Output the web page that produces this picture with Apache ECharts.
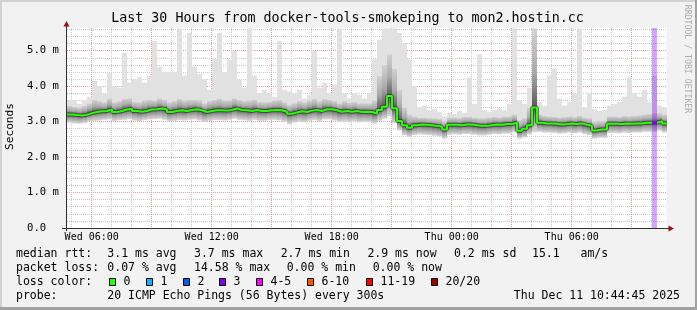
<!DOCTYPE html>
<html><head><meta charset="utf-8">
<script src="https://cdn.jsdelivr.net/npm/echarts@6/dist/echarts.min.js"></script>
<style>html,body{margin:0;padding:0;background:#f2f2f2}#c{width:697px;height:310px}</style>
</head><body><div id="c"></div>
<script>
// ---- data (hours since Wed 00:00, 15-minute steps) ----
const START_H = 4.765;
const STEP_H = 0.25;
const median = [3.20,3.19,3.17,3.19,3.24,3.27,3.29,3.30,3.34,3.27,
 3.30,3.34,3.36,3.30,3.28,3.30,3.34,3.35,3.37,3.34,
 3.27,3.30,3.32,3.30,3.33,3.35,3.32,3.27,3.30,3.32,
 3.32,3.31,3.33,3.37,3.33,3.32,3.30,3.33,3.30,3.30,
 3.32,3.33,3.32,3.28,3.22,3.26,3.29,3.27,3.31,3.33,
 3.30,3.35,3.35,3.32,3.28,3.30,3.28,3.30,3.27,3.28,
 3.27,3.23,3.33,3.42,3.72,3.38,3.02,2.90,2.83,2.90,
 2.92,2.91,2.90,2.88,2.86,2.78,2.91,2.91,2.90,2.92,
 2.92,2.90,2.88,2.88,2.90,2.92,2.91,2.93,2.93,2.97,
 2.74,2.80,2.90,3.40,2.97,2.95,2.95,2.94,2.92,2.93,
 2.95,2.93,2.95,2.91,2.88,2.75,2.78,2.78,2.94,2.94,
 2.93,2.95,2.94,2.95,2.95,2.97,2.97,2.97,3.01,2.95];
const low = [2.97,2.95,2.94,2.96,3.00,3.02,3.03,3.05,3.06,3.02,
 3.04,3.05,3.07,3.03,3.01,3.04,3.06,3.07,3.08,3.05,
 3.00,3.02,3.04,3.03,3.05,3.06,3.03,2.99,3.02,3.04,
 3.04,3.03,3.05,3.08,3.05,3.04,3.02,3.05,3.02,3.02,
 3.04,3.05,3.03,2.99,2.93,2.97,3.00,2.98,3.02,3.04,
 3.01,3.06,3.06,3.03,2.99,3.01,2.99,3.01,2.98,2.99,
 2.98,2.94,3.02,3.08,3.15,2.95,2.75,2.62,2.57,2.62,
 2.64,2.63,2.62,2.60,2.58,2.52,2.63,2.64,2.63,2.65,
 2.65,2.63,2.61,2.61,2.63,2.65,2.64,2.66,2.66,2.70,
 2.52,2.55,2.64,2.70,2.71,2.69,2.69,2.68,2.66,2.67,
 2.69,2.67,2.69,2.65,2.62,2.52,2.54,2.54,2.68,2.68,
 2.67,2.69,2.68,2.69,2.69,2.71,2.71,2.71,2.74,2.69];
const mid = [3.45,3.42,3.40,3.45,3.52,3.62,3.58,3.55,3.65,3.55,
 3.58,3.65,3.66,3.56,3.55,3.60,3.62,3.60,3.66,3.62,
 3.55,3.58,3.65,3.60,3.62,3.62,3.60,3.52,3.58,3.62,
 3.65,3.60,3.60,3.66,3.62,3.58,3.60,3.62,3.56,3.55,
 3.56,3.60,3.62,3.55,3.48,3.52,3.58,3.55,3.60,3.65,
 3.58,3.64,3.62,3.58,3.52,3.58,3.54,3.56,3.52,3.52,
 3.52,3.60,4.30,4.60,4.90,4.50,3.90,3.40,3.20,3.15,
 3.12,3.12,3.10,3.10,3.08,3.02,3.12,3.12,3.10,3.14,
 3.14,3.12,3.10,3.10,3.12,3.14,3.12,3.15,3.15,3.20,
 3.05,3.10,3.40,5.63,3.20,3.16,3.15,3.14,3.12,3.13,
 3.15,3.13,3.16,3.12,3.10,3.00,3.02,3.02,3.15,3.15,
 3.14,3.16,3.15,3.16,3.18,3.20,3.22,3.25,3.24,3.20];
const high = [3.60,3.60,3.50,3.60,3.70,4.15,4.00,3.80,4.38,4.00,
 3.95,4.94,4.10,4.20,4.25,4.10,4.30,5.27,4.55,4.40,
 4.40,4.40,5.63,4.30,5.50,4.55,4.35,4.20,3.90,4.76,
 5.50,4.40,4.75,5.00,4.20,3.95,5.63,4.30,3.80,3.90,
 3.80,3.70,5.27,3.90,3.85,3.80,3.90,3.65,3.75,5.00,
 3.95,4.10,3.80,4.05,5.63,3.80,3.65,3.80,3.75,3.65,
 3.80,4.76,5.30,5.63,5.63,5.63,5.50,5.20,4.76,4.00,
 3.40,3.45,3.33,3.35,3.28,3.15,3.25,3.20,3.30,3.25,
 4.25,3.50,4.90,3.33,3.28,3.33,3.38,3.33,3.50,5.63,
 3.60,3.50,3.95,5.63,3.55,3.45,4.30,4.50,3.65,3.45,
 3.55,3.80,5.63,3.40,3.80,3.35,3.30,3.33,3.45,3.50,
 3.55,3.70,4.25,3.80,3.70,3.90,3.55,4.30,3.45,3.40];
const lossIndex = [117];
const lossCount = [3];

// ---- axis ticks & labels ----
const yMax = 5.64;
const yMajorTicks = [0,1,2,3,4,5];
const yMajorLabels = ['0.0  ','1.0 m','2.0 m','3.0 m','4.0 m','5.0 m'];
const yMinorTicks = [0.2,0.4,0.6,0.8,1.2,1.4,1.6,1.8,2.2,2.4,2.6,2.8,3.2,3.4,3.6,3.8,4.2,4.4,4.6,4.8,5.2,5.4,5.6];
const xMinorTicks = [5,7,8,10,11,13,14,16,17,19,20,22,23,25,26,28,29,31,32,34];
const xMajorTicks = [6,9,12,15,18,21,24,27,30,33];
const xLabelTicks = [6,12,18,24,30];
const xLabelText = ['Wed 06:00','Wed 12:00','Wed 18:00','Thu 00:00','Thu 06:00'];

// ---- legend texts ----
const TITLE = 'Last 30 Hours from docker-tools-smokeping to mon2.hostin.cc';
const rttRow = ['median rtt:','3.1 ms avg','3.7 ms max','2.7 ms min','2.9 ms now','0.2 ms sd','15.1','am/s'];
const lossRow = ['packet loss:','0.07 % avg','14.58 % max','0.00 % min','0.00 % now'];
const lossLabels = ['0','1','2','3','4-5','6-10','11-19','20/20'];
const lossColors = ['#26ff00','#00b8ff','#0059ff','#7e00ff','#ff00ff','#ff5500','#ff0000','#a10000'];
const probeRow = ['probe:','20 ICMP Echo Pings (56 Bytes) every 300s'];
const dateText = 'Thu Dec 11 10:44:45 2025';

// ---- build chart ----
const FONT = '"DejaVu Sans Mono", monospace';
const N = median.length;
const xMin = START_H, xMax = START_H + STEP_H * N;
const smokeData = median.map((m,i)=>[START_H+i*STEP_H, START_H+(i+1)*STEP_H, low[i], m, mid[i], high[i]]);
const medData = median.map((m,i)=>[START_H+i*STEP_H, m]);
medData.push([xMax, median[N-1]]);
const lossData = lossIndex.map((idx,k)=>[START_H+idx*STEP_H, START_H+(idx+1)*STEP_H, median[idx], lossCount[k]]);

function lossColorFor(n){
  if (n<=0) return lossColors[0];
  if (n<=3) return lossColors[n];
  if (n<=5) return lossColors[4];
  if (n<=10) return lossColors[5];
  if (n<=19) return lossColors[6];
  return lossColors[7];
}
function grad(stops){ return new echarts.graphic.LinearGradient(0,0,0,1,stops); }

function renderSmoke(params, api){
  const t0=api.value(0), t1=api.value(1);
  const lo=api.value(2), md=api.value(3), mi=api.value(4), hi=api.value(5);
  const x0=api.coord([t0,0])[0], x1=api.coord([t1,0])[0];
  const Y = v=>api.coord([t0,v])[1];
  const w=x1-x0;
  return {type:'group', children:[
    {type:'rect', shape:{x:x0,y:Y(hi),width:w,height:Y(mi)-Y(hi)}, style:{fill:'#e1e1e1'}},
    {type:'rect', shape:{x:x0,y:Y(mi),width:w,height:Y(md)-Y(mi)},
      style:{fill:grad([{offset:0,color:'#d2d2d2'},{offset:0.55,color:'#aaaaaa'},{offset:1,color:'#5a5a5a'}])}},
    {type:'rect', shape:{x:x0,y:Y(md),width:w,height:Y(lo)-Y(md)},
      style:{fill:grad([{offset:0,color:'#5a5a5a'},{offset:0.45,color:'#a0a0a0'},{offset:1,color:'#dadada'}])}}
  ]};
}
function renderLossBar(params, api){
  const t0=api.value(0), t1=api.value(1), n=api.value(3);
  const x0=api.coord([t0,0])[0], x1=api.coord([t1,0])[0];
  const yTop=api.coord([t0,yMax])[1], yBot=api.coord([t0,0])[1];
  return {type:'rect', shape:{x:x0,y:yTop,width:x1-x0,height:yBot-yTop}, style:{fill:lossColorFor(n), opacity:0.35}};
}
function renderLossMed(params, api){
  const t0=api.value(0), t1=api.value(1), md=api.value(2), n=api.value(3);
  const x0=api.coord([t0,0])[0], x1=api.coord([t1,0])[0];
  const y=api.coord([t0,md])[1];
  return {type:'rect', shape:{x:x0,y:y-1.5,width:x1-x0,height:3}, style:{fill:lossColorFor(n)}};
}

const graphics = [];
// frame
graphics.push({type:'rect', shape:{x:0,y:0,width:697,height:2}, style:{fill:'#d2d2d2'}, z:100});
graphics.push({type:'rect', shape:{x:0,y:0,width:2,height:310}, style:{fill:'#d2d2d2'}, z:100});
graphics.push({type:'rect', shape:{x:0,y:307,width:697,height:3}, style:{fill:'#a2a2a2'}, z:100});
graphics.push({type:'rect', shape:{x:695,y:0,width:2,height:310}, style:{fill:'#a2a2a2'}, z:100});
// axes lines & arrows
graphics.push({type:'line', shape:{x1:66.5,y1:231,x2:66.5,y2:26}, style:{stroke:'#303030',lineWidth:1}, z:100});
graphics.push({type:'line', shape:{x1:62,y1:228.5,x2:669,y2:228.5}, style:{stroke:'#303030',lineWidth:1}, z:100});
graphics.push({type:'polygon', shape:{points:[[63.5,26.5],[69.5,26.5],[66.5,21]]}, style:{fill:'#9a1010'}, z:100});
graphics.push({type:'polygon', shape:{points:[[668.5,225.5],[668.5,231.5],[674,228.5]]}, style:{fill:'#9a1010'}, z:100});
// titles
graphics.push({type:'text', x:347.5, y:19, style:{text:TITLE, font:'13.3px '+FONT, fill:'#000', align:'center', verticalAlign:'middle'}, z:100});
graphics.push({type:'text', x:10, y:126.5, rotation:Math.PI/2, style:{text:'Seconds', font:'11.2px '+FONT, fill:'#000', align:'center', verticalAlign:'middle'}, z:100});
graphics.push({type:'text', x:687, y:59, rotation:-Math.PI/2, style:{text:'RRDTOOL / TOBI OETIKER', font:'8.2px '+FONT, fill:'#ababab', align:'center', verticalAlign:'middle'}, z:100});
// legend rows
const LF = '11.5px '+FONT;
function addText(t,x,y,align){ graphics.push({type:'text', x:x, y:y, style:{text:t, font:LF, fill:'#000', align:align||'left', verticalAlign:'middle'}, z:100}); }
const rttX = [16,107.3,194,280.7,367.4,454,532,580.5];
rttRow.forEach((t,i)=>addText(t, rttX[i], 254.3));
const lossX = [16,107.3,194,286.7,372.7];
lossRow.forEach((t,i)=>addText(t, lossX[i], 268.3));
addText('loss color:', 16, 282.3);
const boxX = [109,146,183,219,256,307,366,431];
lossLabels.forEach((t,i)=>{
  graphics.push({type:'rect', shape:{x:boxX[i]+0.5,y:278.5,width:6,height:7}, style:{fill:lossColors[i], stroke:'#000', lineWidth:1}, z:100});
  addText(t, boxX[i]+14.5, 282.3);
});
addText(probeRow[0], 16, 295.7);
addText(probeRow[1], 107.3, 295.7);
addText(dateText, 680, 295.7, 'right');

const chart = echarts.init(document.getElementById('c'), null, {renderer:'canvas'});
chart.setOption({
  animation:false,
  backgroundColor:'#f2f2f2',
  grid:{left:67, top:28, width:600, height:200, show:true, backgroundColor:'#ffffff', borderWidth:0, containLabel:false},
  xAxis:[
    {type:'value', min:xMin, max:xMax, axisLine:{show:false}, axisTick:{show:false, customValues:xMinorTicks},
     axisLabel:{show:false}, splitLine:{show:true, lineStyle:{color:'#c9c9c9', width:1, type:[1,1]}}},
    {type:'value', min:xMin, max:xMax, position:'bottom', axisLine:{show:false}, axisTick:{show:false, customValues:xMajorTicks},
     axisLabel:{show:true, customValues:xLabelTicks, margin:4, color:'#000', fontFamily:'DejaVu Sans Mono', fontSize:10,
       formatter:(v)=>{const k=xLabelTicks.indexOf(Math.round(v)); return k>=0?xLabelText[k]:'';}},
     splitLine:{show:true, lineStyle:{color:'#e79a9a', width:1, type:[1,1]}}}
  ],
  yAxis:[
    {type:'value', min:0, max:yMax, axisLine:{show:false}, axisTick:{show:false, customValues:yMajorTicks},
     axisLabel:{show:true, customValues:yMajorTicks, margin:8, color:'#000', fontFamily:'DejaVu Sans Mono', fontSize:10.6,
       formatter:(v)=>{const k=yMajorTicks.indexOf(Math.round(v)); return k>=0?yMajorLabels[k]:'';}},
     splitLine:{show:true, lineStyle:{color:'#e79a9a', width:1, type:[1,1]}}},
    {type:'value', min:0, max:yMax, position:'left', axisLine:{show:false}, axisTick:{show:false, customValues:yMinorTicks},
     axisLabel:{show:false}, splitLine:{show:true, lineStyle:{color:'#c9c9c9', width:1, type:[1,1]}}}
  ],
  series:[
    {type:'custom', name:'smoke', xAxisIndex:0, yAxisIndex:0, renderItem:renderSmoke, data:smokeData,
     encode:{x:[0,1], y:[2,3,4,5]}, silent:true, clip:true, z:2},
    {type:'custom', name:'lossbar', xAxisIndex:0, yAxisIndex:0, renderItem:renderLossBar, data:lossData,
     encode:{x:[0,1], y:[2]}, silent:true, clip:true, z:3},
    {type:'line', name:'core', xAxisIndex:0, yAxisIndex:0, data:medData, step:'end', symbol:'none',
     lineStyle:{color:'#2a2a2a', width:4, opacity:0.6}, silent:true, z:4},
    {type:'line', name:'median', xAxisIndex:0, yAxisIndex:0, data:medData, step:'end', symbol:'none',
     lineStyle:{color:lossColors[0], width:2}, silent:true, z:5},
    {type:'custom', name:'lossmed', xAxisIndex:0, yAxisIndex:0, renderItem:renderLossMed, data:lossData,
     encode:{x:[0,1], y:[2]}, silent:true, clip:true, z:6}
  ],
  graphic:{elements:graphics}
});
</script></body></html>
